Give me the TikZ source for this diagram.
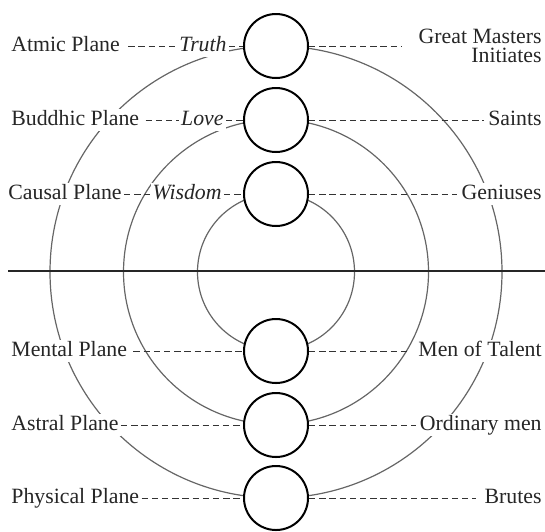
\documentclass[tikz,border=0pt]{standalone}
\usepackage{fontspec}
\setmainfont{Liberation Serif}
\usetikzlibrary{arrows}
\pgfdeclarelayer{background}
\pgfsetlayers{background,main}

\begin{document}
\begin{tikzpicture}[x=0.5pt,y=-0.5pt,
  plane/.style={circle,draw,line width=1pt,fill=white,inner sep=0pt,minimum size=32pt},
  lbl/.style={fill=white,inner sep=1pt,text=black!85,font=\fontsize{10.9pt}{13pt}\selectfont},
  lvl/.style={lbl,text height=.7em,text depth=.2em},
  dashline/.style={line width=.5pt,dash pattern=on 3.2pt off 1.9pt,black!80},
  ring/.style={line width=.6pt,black!60}]
\useasboundingbox (0,0) rectangle (545,531);

\node[plane] (C1) at (276,46) {};
\node[plane] (C2) at (276,120) {};
\node[plane] (C3) at (276,194) {};

\node[plane] (C4) at (276,351) {};
\node[plane] (C5) at (276,425) {};
\node[plane] (C6) at (276,498) {};

\coordinate (O) at (276,272);

\begin{pgfonlayer}{background}
\draw[ring] (O) circle[radius=226];
\draw[ring] (O) circle[radius=152.5];
\draw[ring] (O) circle[radius=78.5];
\end{pgfonlayer}

\draw[line width=1pt,black!85] (8,271) -- (545,271);

\node[lvl,anchor=west] (L1) at (9,46) {Atmic Plane};
\node[lvl,anchor=west] (L2) at (9,120) {Buddhic Plane};
\node[lvl,anchor=west] (L3) at (6,194) {Causal Plane};
\node[lvl,anchor=west] (L4) at (9,351) {Mental Plane};
\node[lvl,anchor=west] (L5) at (9,425) {Astral Plane};
\node[lvl,anchor=west] (L6) at (9,498) {Physical Plane};

\node[lvl,anchor=east] (V1) at (229,46) {\textit{Truth}};
\node[lvl,anchor=east] (V2) at (226,120) {\textit{Love}};
\node[lvl,anchor=east] (V3) at (224,194) {\textit{Wisdom}};

\node[lbl,anchor=east,align=right] (R1) at (544,46) {Great Masters\\[-3.5pt]Initiates};
\node[lvl,anchor=east] (R2) at (544,120) {Saints};
\node[lvl,anchor=east] (R3) at (544,194) {Geniuses};
\node[lvl,anchor=east] (R4) at (544,351) {Men of Talent};
\node[lvl,anchor=east] (R5) at (544,425) {Ordinary men};
\node[lvl,anchor=east] (R6) at (544,498) {Brutes};

\path[dashline] (L1) edge [shorten <=3pt] (V1);
\path[dashline] (V1) edge [] (C1);
\path[dashline] (L2) edge [shorten <=2pt] (V2);
\path[dashline] (V2) edge [] (C2);
\path[dashline] (L3) edge [] (V3);
\path[dashline] (V3) edge [] (C3);
\path[dashline] (L4) edge [shorten <=2pt] (C4);
\path[dashline] (L5) edge [] (C5);
\path[dashline] (L6) edge [] (C6);

\path[dashline] (C1) edge [shorten >=7pt] (R1);
\path[dashline] (C2) edge [shorten >=1pt] (R2);
\path[dashline] (C3) edge [shorten >=1pt] (R3);
\path[dashline] (C4) edge [shorten >=4pt] (R4);
\path[dashline] (C5) edge [shorten >=1pt] (R5);
\path[dashline] (C6) edge [shorten >=3pt] (R6);

\end{tikzpicture}
\end{document}
